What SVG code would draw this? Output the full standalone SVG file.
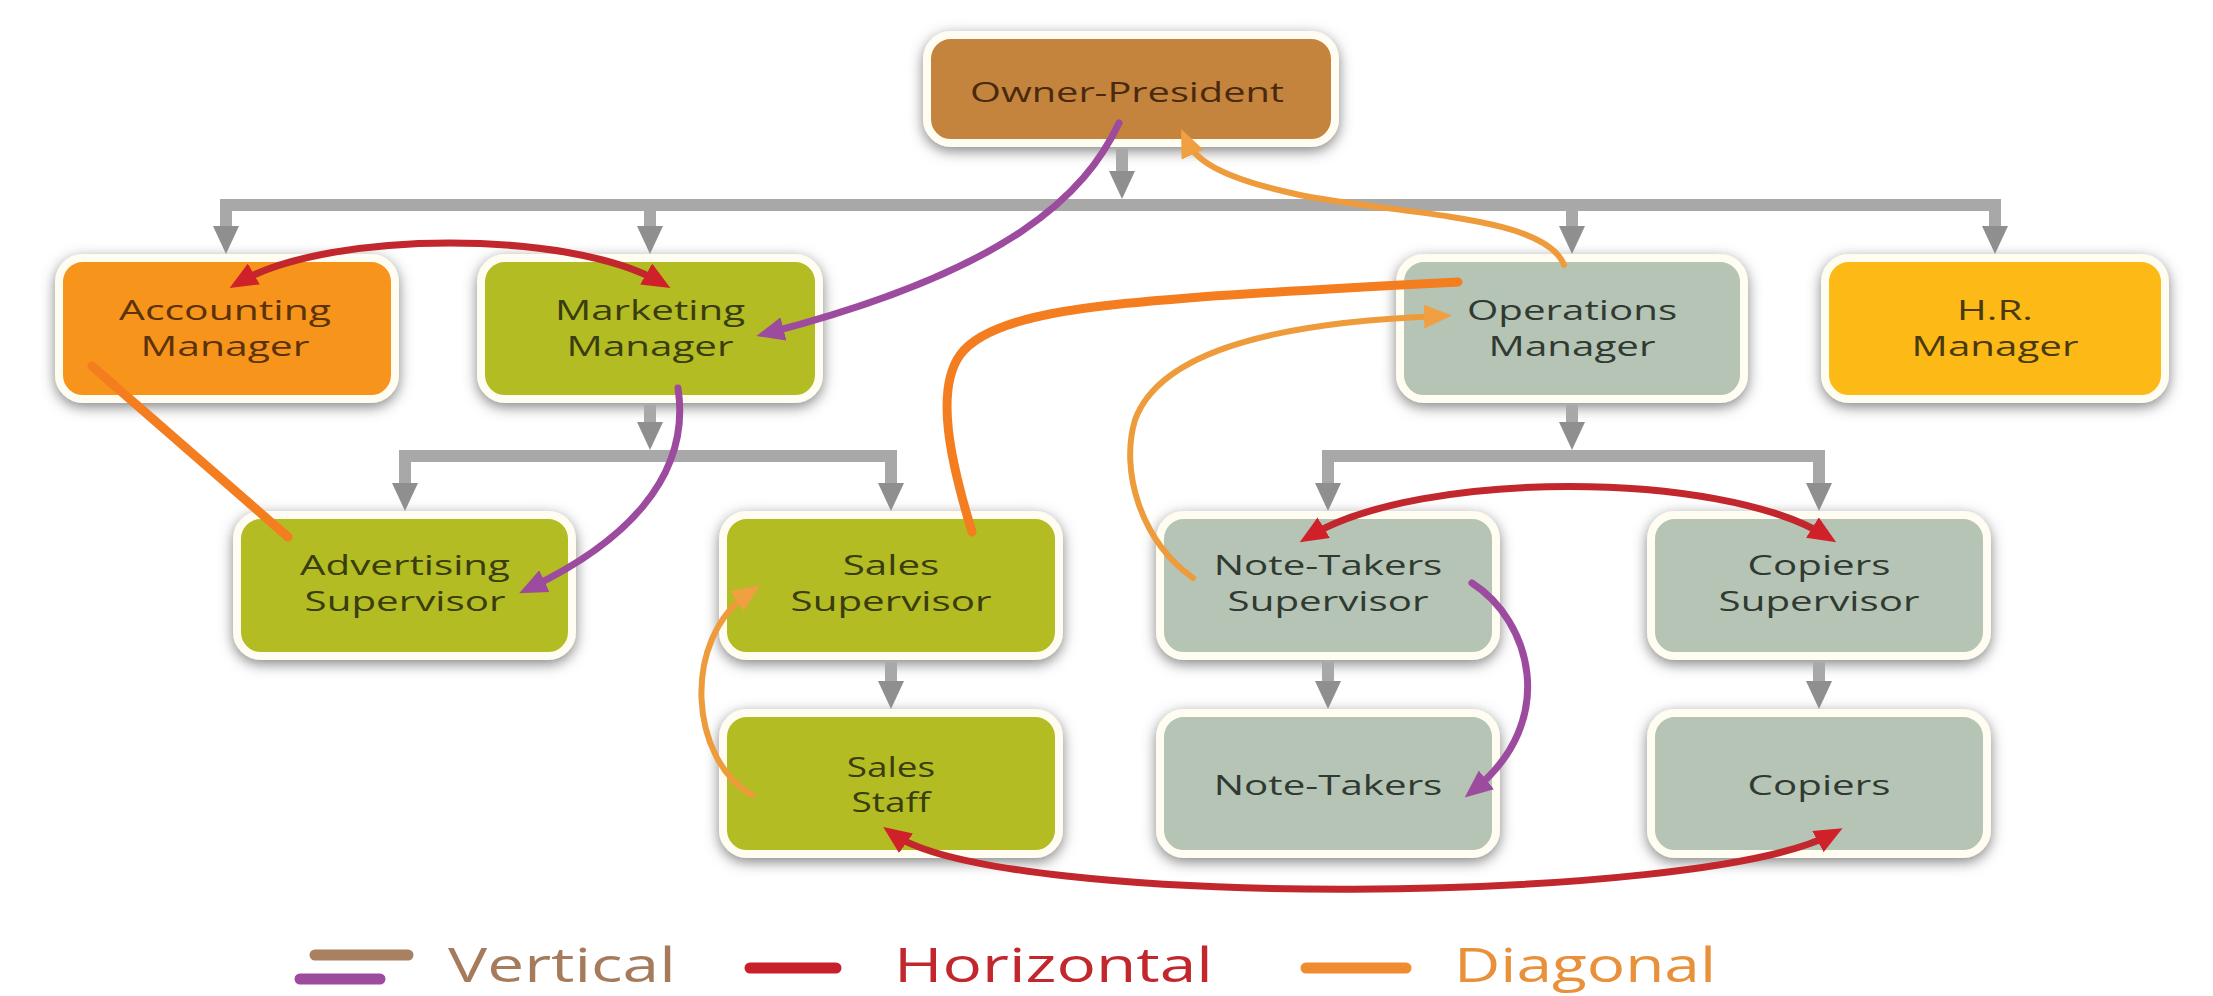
<svg xmlns="http://www.w3.org/2000/svg" width="2213" height="996" viewBox="0 0 2213 996">
<style>
.box{stroke:#FFFDF2;stroke-width:8}
.t{font-family:"Open Sans","Noto Sans",sans-serif;font-size:28px;font-weight:500;text-anchor:middle}
.lg{font-family:"Open Sans","Noto Sans",sans-serif;font-size:47px;font-weight:400}
.tree{fill:none;stroke:#A8A8A8;stroke-width:12}
.c{fill:none;stroke-linecap:round}
.pu{stroke:#9C4B9E;stroke-width:7}
.rd{stroke:#C1272D;stroke-width:7}
.or{stroke:#F47D20;stroke-width:9}
.am{stroke:#EE9B3C;stroke-width:6}
</style>
<defs>
<filter id="sh" x="-20%" y="-30%" width="140%" height="170%">
<feDropShadow dx="0" dy="4" stdDeviation="7" flood-color="#5a5a5a" flood-opacity="0.75"/>
</filter>
<marker id="ag" markerUnits="userSpaceOnUse" markerWidth="28" markerHeight="26" viewBox="0 0 28 26" refX="0" refY="13" orient="auto"><path d="M0 0 L28 13 L0 26 Z" fill="#8F8F8F"/></marker>
<marker id="ap" markerUnits="userSpaceOnUse" markerWidth="28" markerHeight="24" viewBox="0 0 28 24" refX="16" refY="12" orient="auto-start-reverse"><path d="M0 0 L28 12 L0 24 Z" fill="#9C4B9E"/></marker>
<marker id="ar" markerUnits="userSpaceOnUse" markerWidth="28" markerHeight="24" viewBox="0 0 28 24" refX="16" refY="12" orient="auto-start-reverse"><path d="M0 0 L28 12 L0 24 Z" fill="#D0202A"/></marker>
<marker id="aa" markerUnits="userSpaceOnUse" markerWidth="28" markerHeight="24" viewBox="0 0 28 24" refX="16" refY="12" orient="auto-start-reverse"><path d="M0 0 L28 12 L0 24 Z" fill="#F0A040"/></marker>
</defs>
<rect width="2213" height="996" fill="#FFFFFF"/>

<g id="nodes">
<g id="owner-president"><rect class="box" x="927" y="35" width="408" height="108" rx="24" fill="#C4843C" filter="url(#sh)"/><text class="t" fill="#4A2A0E" transform="translate(1127 102) scale(1.42 1)">Owner-President</text></g>
<g id="accounting-manager"><rect class="box" x="59" y="258" width="336" height="141" rx="24" fill="#F7941D" filter="url(#sh)"/><text class="t" fill="#5B3209" transform="translate(225 320) scale(1.46 1)">Accounting</text><text class="t" fill="#5B3209" transform="translate(225 356) scale(1.46 1)">Manager</text></g>
<g id="marketing-manager"><rect class="box" x="481" y="258" width="338" height="141" rx="24" fill="#B3BC21" filter="url(#sh)"/><text class="t" fill="#3A3D10" transform="translate(650 320) scale(1.44 1)">Marketing</text><text class="t" fill="#3A3D10" transform="translate(650 356) scale(1.44 1)">Manager</text></g>
<g id="operations-manager"><rect class="box" x="1400" y="258" width="344" height="141" rx="24" fill="#B5C4B4" filter="url(#sh)"/><text class="t" fill="#303A32" transform="translate(1572 320) scale(1.44 1)">Operations</text><text class="t" fill="#303A32" transform="translate(1572 356) scale(1.44 1)">Manager</text></g>
<g id="hr-manager"><rect class="box" x="1825" y="258" width="340" height="141" rx="24" fill="#FDB913" filter="url(#sh)"/><text class="t" fill="#4A3A10" transform="translate(1995 320) scale(1.44 1)">H.R.</text><text class="t" fill="#4A3A10" transform="translate(1995 356) scale(1.44 1)">Manager</text></g>

<g id="advertising-supervisor"><rect class="box" x="237" y="515" width="335" height="141" rx="24" fill="#B3BC21" filter="url(#sh)"/><text class="t" fill="#3A3D10" transform="translate(405 575) scale(1.44 1)">Advertising</text><text class="t" fill="#3A3D10" transform="translate(405 611) scale(1.44 1)">Supervisor</text></g>
<g id="sales-supervisor"><rect class="box" x="723" y="515" width="336" height="141" rx="24" fill="#B3BC21" filter="url(#sh)"/><text class="t" fill="#3A3D10" transform="translate(891 575) scale(1.44 1)">Sales</text><text class="t" fill="#3A3D10" transform="translate(891 611) scale(1.44 1)">Supervisor</text></g>
<g id="note-takers-supervisor"><rect class="box" x="1160" y="515" width="336" height="141" rx="24" fill="#B5C4B4" filter="url(#sh)"/><text class="t" fill="#303A32" transform="translate(1328 575) scale(1.44 1)">Note-Takers</text><text class="t" fill="#303A32" transform="translate(1328 611) scale(1.44 1)">Supervisor</text></g>
<g id="copiers-supervisor"><rect class="box" x="1651" y="515" width="336" height="141" rx="24" fill="#B5C4B4" filter="url(#sh)"/><text class="t" fill="#303A32" transform="translate(1819 575) scale(1.44 1)">Copiers</text><text class="t" fill="#303A32" transform="translate(1819 611) scale(1.44 1)">Supervisor</text></g>

<g id="sales-staff"><rect class="box" x="723" y="713" width="336" height="141" rx="24" fill="#B3BC21" filter="url(#sh)"/><text class="t" fill="#3A3D10" transform="translate(891 777) scale(1.32 1)">Sales</text><text class="t" fill="#3A3D10" transform="translate(891 812) scale(1.32 1)">Staff</text></g>
<g id="note-takers"><rect class="box" x="1160" y="713" width="336" height="141" rx="24" fill="#B5C4B4" filter="url(#sh)"/><text class="t" fill="#303A32" transform="translate(1328 795) scale(1.44 1)">Note-Takers</text></g>
<g id="copiers"><rect class="box" x="1651" y="713" width="336" height="141" rx="24" fill="#B5C4B4" filter="url(#sh)"/><text class="t" fill="#303A32" transform="translate(1819 795) scale(1.44 1)">Copiers</text></g>
</g>

<g id="connectors">
<g id="vertical-tree">
<line class="tree" x1="1122" y1="149" x2="1122" y2="171" marker-end="url(#ag)"/>
<path class="tree" d="M226 226 V205 H1995 V226" marker-end="url(#ag)"/>
<line class="tree" x1="226" y1="205" x2="226" y2="226" marker-end="url(#ag)"/>
<line class="tree" x1="650" y1="205" x2="650" y2="226" marker-end="url(#ag)"/>
<line class="tree" x1="1572" y1="205" x2="1572" y2="226" marker-end="url(#ag)"/>
<line class="tree" x1="650" y1="405" x2="650" y2="422" marker-end="url(#ag)"/>
<path class="tree" d="M405 483 V456 H891 V483" marker-end="url(#ag)"/>
<line class="tree" x1="405" y1="456" x2="405" y2="483" marker-end="url(#ag)"/>
<line class="tree" x1="1572" y1="405" x2="1572" y2="422" marker-end="url(#ag)"/>
<path class="tree" d="M1328 483 V456 H1819 V483" marker-end="url(#ag)"/>
<line class="tree" x1="1328" y1="456" x2="1328" y2="483" marker-end="url(#ag)"/>
<line class="tree" x1="891" y1="662" x2="891" y2="681" marker-end="url(#ag)"/>
<line class="tree" x1="1328" y1="662" x2="1328" y2="681" marker-end="url(#ag)"/>
<line class="tree" x1="1819" y1="662" x2="1819" y2="681" marker-end="url(#ag)"/>
</g>
<path class="c or" d="M92 366 L288 537"/>
<path class="c or" d="M972 532 C950 460, 935 390, 960 355 C990 313, 1100 305, 1200 297 C1300 290, 1400 285, 1458 282"/>
<path class="c am" d="M1564 265 C1545 215, 1400 215, 1300 195 C1220 178, 1195 160, 1186 140" marker-end="url(#aa)"/>
<path class="c am" d="M1193 578 C1140 540, 1120 470, 1135 420 C1160 350, 1280 322, 1440 316" marker-end="url(#aa)"/>
<path class="c am" d="M752 795 C690 760, 680 640, 750 592" marker-end="url(#aa)"/>
<path class="c pu" d="M1119 123 C1085 195, 1010 270, 768 333" marker-end="url(#ap)"/>
<path class="c pu" d="M678 388 C692 480, 620 545, 530 588" marker-end="url(#ap)"/>
<path class="c pu" d="M1472 583 C1530 620, 1560 720, 1474 790" marker-end="url(#ap)"/>
<path class="c rd" d="M240 282 C330 230, 570 230, 660 282" marker-start="url(#ar)" marker-end="url(#ar)"/>
<path class="c rd" d="M1310 536 C1420 470, 1720 470, 1826 536" marker-start="url(#ar)" marker-end="url(#ar)"/>
<path class="c rd" d="M893 834 C1000 910, 1700 905, 1832 834" marker-start="url(#ar)" marker-end="url(#ar)"/>
</g>

<g id="legend">
<line x1="315" y1="955" x2="408" y2="955" stroke="#A98060" stroke-width="11" stroke-linecap="round"/>
<line x1="300" y1="979" x2="380" y2="979" stroke="#9C4B9E" stroke-width="11" stroke-linecap="round"/>
<text class="lg" fill="#A67B5B" transform="translate(448 982) scale(1.4 1)">Vertical</text>
<line x1="750" y1="968" x2="836" y2="968" stroke="#C8202A" stroke-width="11" stroke-linecap="round"/>
<text class="lg" fill="#C1272D" transform="translate(894 982) scale(1.4 1)">Horizontal</text>
<line x1="1306" y1="968" x2="1406" y2="968" stroke="#F08C30" stroke-width="11" stroke-linecap="round"/>
<text class="lg" fill="#E8913A" transform="translate(1454 982) scale(1.36 1)">Diagonal</text>
</g>
</svg>
